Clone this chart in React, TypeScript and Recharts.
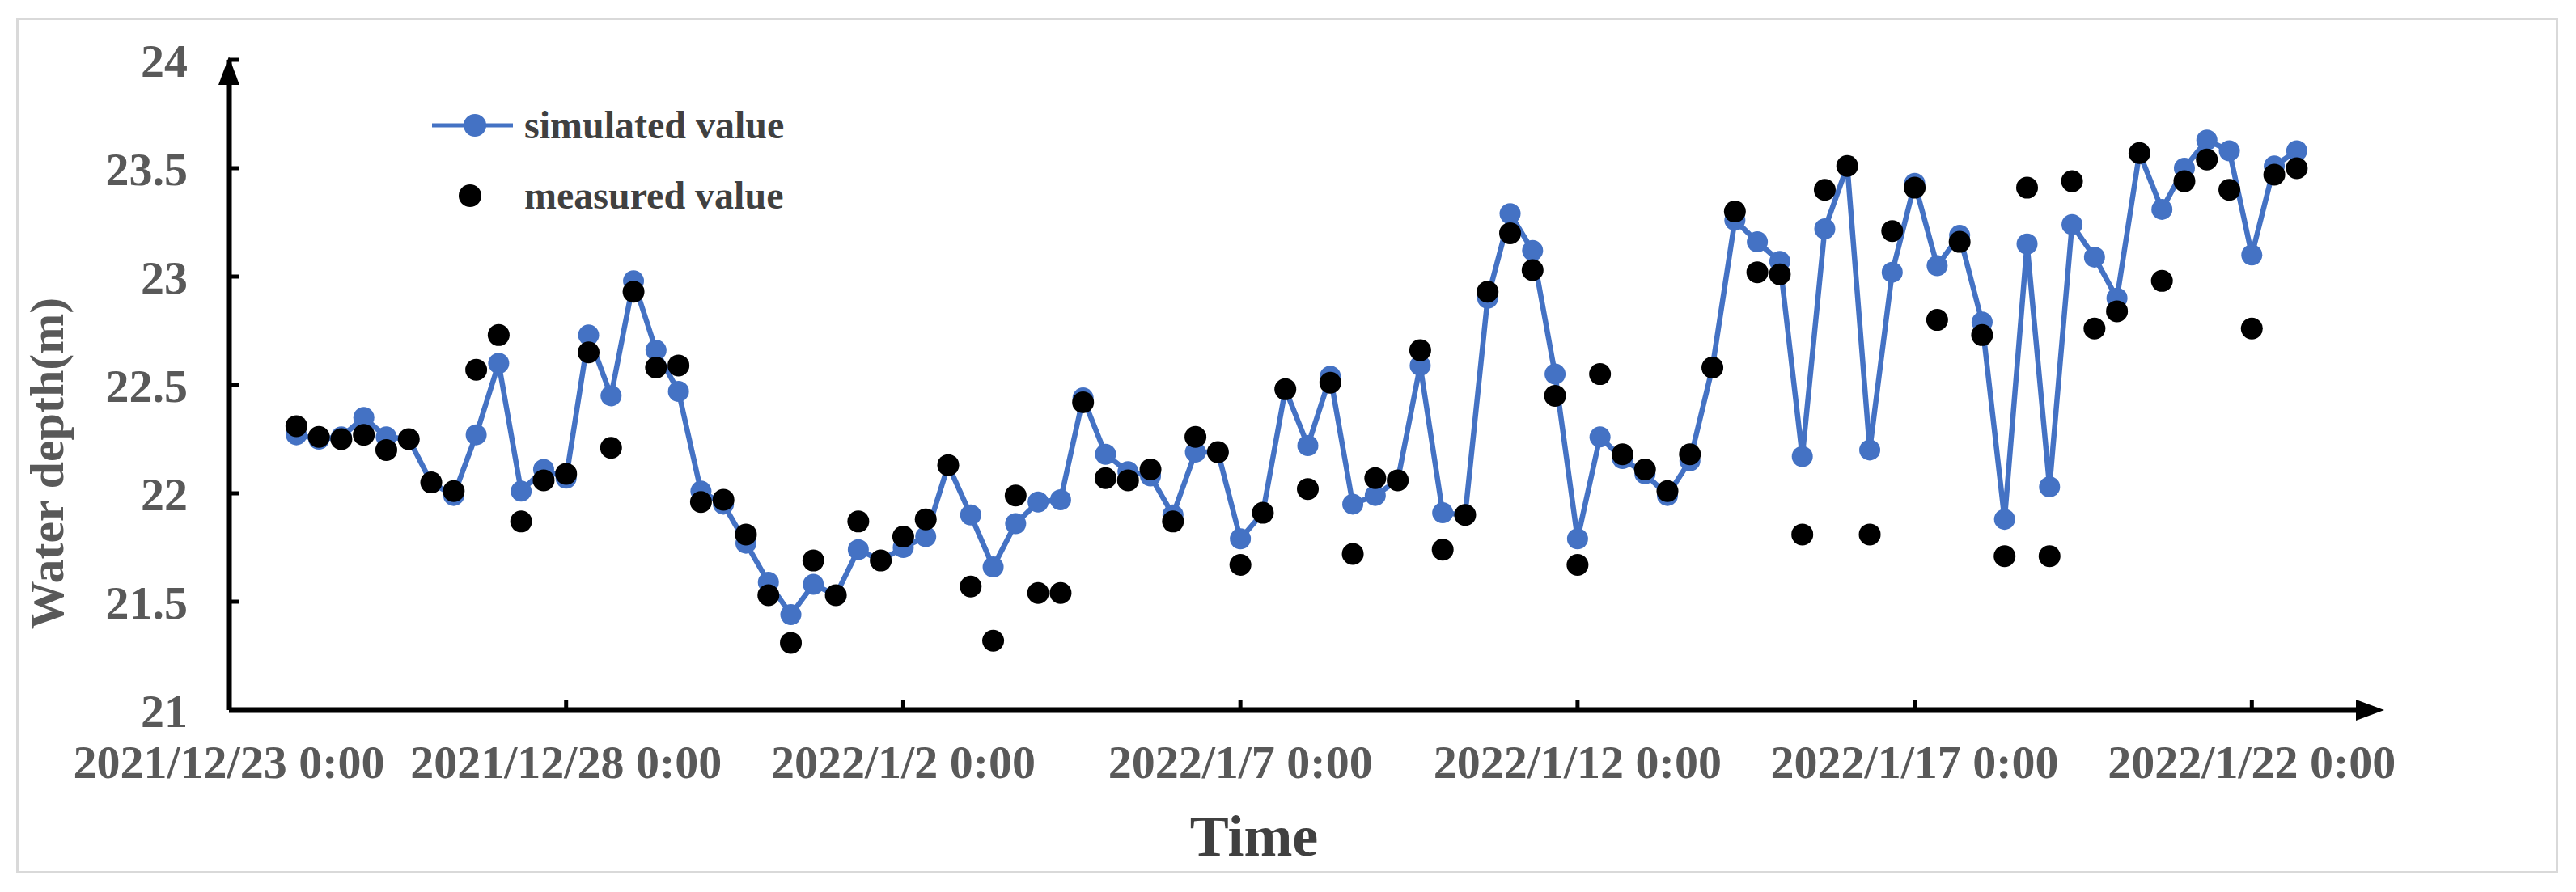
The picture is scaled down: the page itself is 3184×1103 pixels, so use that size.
import React from 'react';
import { ComposedChart, Line, XAxis, YAxis, Legend } from 'recharts';

const W = 3184;
const H = 1103;
const FONT = '"Liberation Serif", "Times New Roman", serif';

// x axis: days since 2021/12/23 0:00, labelled every 5 days
const tickDays = [0, 5, 10, 15, 20, 25, 30];
const tickLabels = [
  '2021/12/23 0:00',
  '2021/12/28 0:00',
  '2022/1/2 0:00',
  '2022/1/7 0:00',
  '2022/1/12 0:00',
  '2022/1/17 0:00',
  '2022/1/22 0:00',
];
const depthTicks = [21, 21.5, 22, 22.5, 23, 23.5, 24];

// one sample every 8 h, first one at 2021/12/24 0:00
const startDay = 1;
const stepHours = 8;

const simulated = [
  22.27, 22.25, 22.26, 22.35, 22.26, 22.25, 22.05, 21.99, 22.27, 22.6,
  22.01, 22.11, 22.07, 22.73, 22.45, 22.98, 22.66, 22.47, 22.01, 21.95,
  21.77, 21.59, 21.44, 21.58, 21.53, 21.74, 21.69, 21.75, 21.8, 22.13,
  21.9, 21.66, 21.86, 21.96, 21.97, 22.44, 22.18, 22.1, 22.08, 21.9,
  22.19, 22.19, 21.79, 21.91, 22.48, 22.22, 22.54, 21.95, 21.99, 22.06,
  22.59, 21.91, 21.9, 22.9, 23.29, 23.12, 22.55, 21.79, 22.26, 22.16,
  22.09, 21.99, 22.15, 22.58, 23.26, 23.16, 23.07, 22.17, 23.22, 23.51,
  22.2, 23.02, 23.43, 23.05, 23.19, 22.79, 21.88, 23.15, 22.03, 23.24,
  23.09, 22.9, 23.57, 23.31, 23.5, 23.63, 23.58, 23.1, 23.51, 23.58,
];

const measured = [
  22.31, 22.26, 22.25, 22.27, 22.2, 22.25, 22.05, 22.01, 22.57, 22.73,
  21.87, 22.06, 22.09, 22.65, 22.21, 22.93, 22.58, 22.59, 21.96, 21.97,
  21.81, 21.53, 21.31, 21.69, 21.53, 21.87, 21.69, 21.8, 21.88, 22.13,
  21.57, 21.32, 21.99, 21.54, 21.54, 22.42, 22.07, 22.06, 22.11, 21.87,
  22.26, 22.19, 21.67, 21.91, 22.48, 22.02, 22.51, 21.72, 22.07, 22.06,
  22.66, 21.74, 21.9, 22.93, 23.2, 23.03, 22.45, 21.67, 22.55, 22.18,
  22.11, 22.01, 22.18, 22.58, 23.3, 23.02, 23.01, 21.81, 23.4, 23.51,
  21.81, 23.21, 23.41, 22.8, 23.16, 22.73, 21.71, 23.41, 21.71, 23.44,
  22.76, 22.84, 23.57, 22.98, 23.44, 23.54, 23.4, 22.76, 23.47, 23.5,
];

const data = simulated.map((s, i) => ({
  day: startDay + (i * stepHours) / 24,
  simulated: s,
  measured: measured[i],
}));

// plot box (px inside the chart svg)
const plotLeft = 283;
const plotRight = 2925;
const plotTop = 74;
const plotBottom = 878;

const BLUE = '#4472C4';

function LegendBox() {
  const row = { display: 'flex', alignItems: 'center', height: 87 } as const;
  const label = { fontFamily: FONT, fontWeight: 700, fontSize: 48, color: '#404040', marginLeft: 14 } as const;
  return (
    <div>
      <div style={row}>
        <svg width={100} height={30}>
          <line x1={0} y1={15} x2={100} y2={15} stroke={BLUE} strokeWidth={5} />
          <circle cx={53} cy={15} r={14} fill={BLUE} />
        </svg>
        <span style={label}>simulated value</span>
      </div>
      <div style={row}>
        <svg width={100} height={30}>
          <circle cx={47} cy={15} r={14} fill="#000" />
        </svg>
        <span style={label}>measured value</span>
      </div>
    </div>
  );
}

export default function App() {
  const tickStyle = { fill: '#595959', fontSize: 58, fontWeight: 700, fontFamily: FONT };
  return (
    <div style={{ position: 'fixed', left: 0, top: 0, width: W, height: H, background: '#fff' }}>
      <div
        style={{
          position: 'absolute',
          left: 20,
          top: 22,
          width: 3142,
          height: 1058,
          border: '3px solid #d9d9d9',
          boxSizing: 'border-box',
        }}
      />
      <div style={{ position: 'absolute', left: 0, top: 0 }}>
        <ComposedChart
          width={W}
          height={H}
          data={data}
          margin={{ top: plotTop, right: W - plotRight, bottom: 0, left: 0 }}
        >
          <XAxis
            type="number"
            dataKey="day"
            domain={[0, 31.7]}
            ticks={tickDays}
            interval={0}
            allowDataOverflow
            height={H - plotBottom}
            axisLine={{ stroke: '#000', strokeWidth: 7 }}
            tickLine={{ stroke: '#000', strokeWidth: 5 }}
            tickSize={-13}
            tickMargin={56}
            tick={tickStyle}
            tickFormatter={(v: number) => tickLabels[tickDays.indexOf(v)] ?? ''}
          />
          <YAxis
            type="number"
            domain={[21, 24]}
            ticks={depthTicks}
            interval={0}
            allowDataOverflow
            width={plotLeft}
            axisLine={{ stroke: '#000', strokeWidth: 7 }}
            tickLine={{ stroke: '#000', strokeWidth: 5 }}
            tickSize={-12}
            tickMargin={63}
            tick={tickStyle}
          />
          <Line
            dataKey="simulated"
            name="simulated value"
            stroke={BLUE}
            strokeWidth={6.5}
            dot={{ r: 13, fill: BLUE, stroke: 'none' }}
            isAnimationActive={false}
          />
          <Line
            dataKey="measured"
            name="measured value"
            stroke="none"
            dot={{ r: 13.5, fill: '#000', stroke: 'none' }}
            isAnimationActive={false}
          />
          <Legend
            layout="horizontal"
            verticalAlign="middle"
            align="center"
            content={() => <LegendBox />}
            wrapperStyle={{ left: 534, top: 111, width: 'auto' }}
          />
        </ComposedChart>
      </div>
      <svg
        width={W}
        height={H}
        style={{ position: 'absolute', left: 0, top: 0, pointerEvents: 'none' }}
      >
        <polygon points={`${plotLeft},${plotTop - 4} ${plotLeft - 13},${plotTop + 31} ${plotLeft + 13},${plotTop + 31}`} fill="#000" />
        <polygon points={`${plotRight + 22},${plotBottom} ${plotRight - 13},${plotBottom - 13} ${plotRight - 13},${plotBottom + 13}`} fill="#000" />
        <text
          x={0}
          y={0}
          transform="translate(78, 573) rotate(-90)"
          textAnchor="middle"
          fontFamily={FONT}
          fontWeight={700}
          fontSize={60}
          fill="#595959"
        >
          Water depth(m)
        </text>
        <text
          x={1550}
          y={1058}
          textAnchor="middle"
          fontFamily={FONT}
          fontWeight={700}
          fontSize={72}
          fill="#404040"
        >
          Time
        </text>
      </svg>
    </div>
  );
}
